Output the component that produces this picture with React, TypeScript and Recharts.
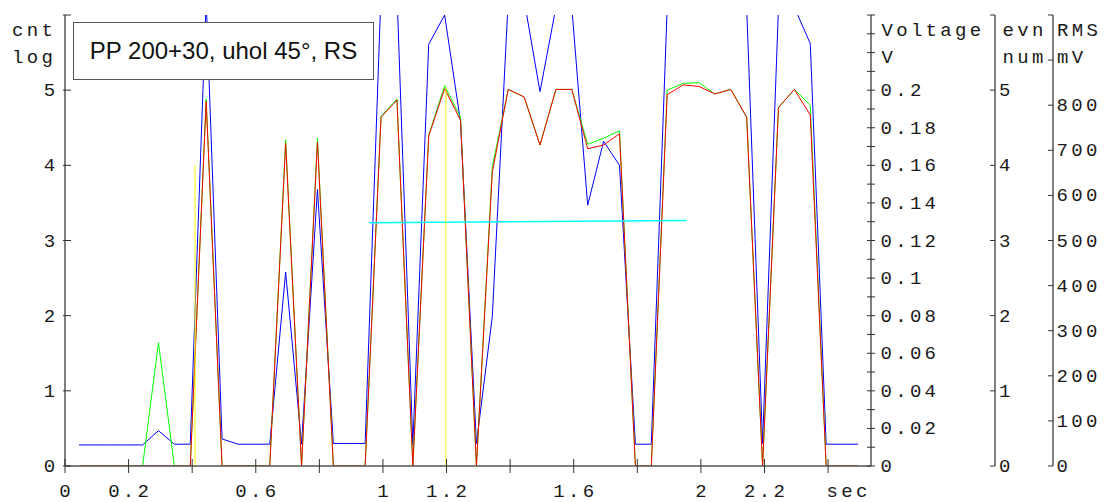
import { LineChart, Line, XAxis, YAxis, ReferenceLine } from 'recharts';

// sample times (sec)
const times = [
  0.044, 0.094, 0.144, 0.194, 0.244, 0.294, 0.344, 0.394, 0.444, 0.494,
  0.544, 0.594, 0.644, 0.694, 0.744, 0.794, 0.844, 0.894, 0.944, 0.994,
  1.044, 1.094, 1.144, 1.194, 1.244, 1.294, 1.344, 1.394, 1.444, 1.494,
  1.544, 1.594, 1.644, 1.694, 1.744, 1.794, 1.844, 1.894, 1.944, 1.994,
  2.044, 2.094, 2.144, 2.194, 2.244, 2.294, 2.344, 2.394, 2.444, 2.494,
];

// cnt log values
const blueCnt = [
  0.28, 0.28, 0.28, 0.28, 0.28, 0.47, 0.29, 0.29, 6.2, 0.36,
  0.29, 0.29, 0.29, 2.58, 0.29, 3.68, 0.3, 0.3, 0.3, 6.3,
  6.3, 0.28, 5.61, 6.0, 4.58, 0.3, 1.99, 6.2, 6.2, 4.98,
  6.1, 6.1, 3.47, 4.32, 4.0, 0.29, 0.29, 6.1, 6.3, 6.3,
  6.3, 6.3, 6.1, 0.3, 6.1, 6.1, 5.62, 0.29, 0.29, 0.29,
];
const greenCnt = [
  0, 0, 0, 0, 0, 1.64, 0, 0, 4.88, 0,
  0, 0, 0, 4.34, 0, 4.36, 0, 0, 0, 4.65,
  4.88, 0, 4.4, 5.06, 4.64, 0, 3.98, 5.01, 4.91, 4.27,
  5.01, 5.01, 4.28, 4.36, 4.46, 0, 0, 5.0, 5.09, 5.1,
  4.95, 5.01, 4.64, 0, 4.77, 5.01, 4.8, 0, 0, 0,
];
const redCnt = [
  0, 0, 0, 0, 0, 0, 0, 0, 4.85, 0,
  0, 0, 0, 4.29, 0, 4.31, 0, 0, 0, 4.64,
  4.87, 0, 4.39, 5.02, 4.6, 0, 3.91, 5.01, 4.91, 4.27,
  5.01, 5.01, 4.22, 4.27, 4.42, 0, 0, 4.94, 5.07, 5.05,
  4.95, 5.01, 4.64, 0, 4.77, 5.01, 4.67, 0, 0, 0,
];

// cyan level line
const cyanTimes = [0.957, 1.955];
const cyanLevels = [3.235, 3.267];

// yellow markers
const markerTimes = [0.409, 1.198];
const markerHeights = [4.0, 5.04];

// axes
const xTicks = [0, 0.2, 0.4, 0.6, 0.8, 1, 1.2, 1.4, 1.6, 1.8, 2, 2.2, 2.4];
const xTickLabels = ['0', '0.2', '', '0.6', '', '1', '1.2', '', '1.6', '', '2', '2.2', ''];
const cntTicks = [0, 1, 2, 3, 4, 5, 6];
const voltTicks = [
  0, 0.01, 0.02, 0.03, 0.04, 0.05, 0.06, 0.07, 0.08, 0.09, 0.1, 0.11, 0.12,
  0.13, 0.14, 0.15, 0.16, 0.17, 0.18, 0.19, 0.2, 0.21, 0.22, 0.23, 0.24,
];
const voltTickLabels = [
  '0', '', '0.02', '', '0.04', '', '0.06', '', '0.08', '', '0.1', '', '0.12',
  '', '0.14', '', '0.16', '', '0.18', '', '0.2', '', '', '', '',
];
const evnTicks = [0, 1, 2, 3, 4, 5, 6];
const rmsTicks = [0, 100, 200, 300, 400, 500, 600, 700, 800, 900, 1000];

const W = 1101;
const H = 494;
const MONO = '"Liberation Mono", "Courier New", monospace';
const TICK = '#333';
const AXIS = '#555';
const mono = { fontFamily: MONO, fontSize: 19, letterSpacing: 3.3, fill: '#1a1a1a' };

const findIdx = (arr: number[], v: number) => arr.findIndex((a) => Math.abs(a - v) < 1e-9);

const XTick = ({ x, y, payload }: any) => {
  const i = findIdx(xTicks, payload.value);
  return (
    <g>
      <line x1={x} x2={x} y1={y - 7} y2={y + 7} stroke={TICK} />
      <text x={x + 1.6} y={y + 31} textAnchor="middle" {...mono}>{xTickLabels[i] || ''}</text>
    </g>
  );
};

const CntTick = ({ x, y, payload }: any) => (
  <g>
    <line x1={x - 2} x2={x + 6} y1={y} y2={y} stroke={TICK} />
    {payload.value <= 5 && (
      <text x={x - 6.5} y={y + 6} textAnchor="end" {...mono}>{payload.value}</text>
    )}
  </g>
);

const VoltTick = ({ x, y, payload }: any) => {
  const i = findIdx(voltTicks, payload.value);
  return (
    <g>
      <line x1={x - 4} x2={x + 4} y1={y} y2={y} stroke={TICK} />
      <text x={x + 9.5} y={y + 6} {...mono}>{voltTickLabels[i] || ''}</text>
    </g>
  );
};

const EvnTick = ({ x, y, payload }: any) => (
  <g>
    <line x1={x - 5} x2={x} y1={y} y2={y} stroke={TICK} />
    {payload.value <= 5 && <text x={x + 4} y={y + 6} {...mono}>{payload.value}</text>}
  </g>
);

const RmsTick = ({ x, y, payload }: any) => (
  <g>
    <line x1={x - 5} x2={x} y1={y} y2={y} stroke={TICK} />
    {payload.value <= 800 && <text x={x + 3.5} y={y + 6} {...mono}>{payload.value}</text>}
  </g>
);

export default function App() {
  const data = times.map((t, i) => ({ t, blue: blueCnt[i], green: greenCnt[i], red: redCnt[i] }));
  const cyanData = cyanTimes.map((t, i) => ({ t, cyan: cyanLevels[i] }));

  return (
    <div style={{ position: 'relative', width: W, height: H }}>
      <LineChart width={W} height={H} data={data} margin={{ top: 7, right: 0, bottom: 0, left: 0 }}>
        <XAxis
          dataKey="t"
          type="number"
          domain={[0, 2.535]}
          ticks={xTicks}
          interval={0}
          height={36}
          tickSize={0}
          tickMargin={0}
          tickLine={false}
          tick={XTick}
          axisLine={{ stroke: AXIS, strokeWidth: 1.5 }}
        />
        <YAxis
          yAxisId="cnt"
          domain={[0, 6]}
          ticks={cntTicks}
          interval={0}
          width={57}
          allowDataOverflow
          tickSize={0}
          tickMargin={0}
          tickLine={false}
          tick={CntTick}
          axisLine={{ stroke: AXIS, strokeWidth: 1.5 }}
        />
        {/* right axes: ids sorted so they stack volt, evn, rms from the plot outwards */}
        <YAxis
          yAxisId="r1volt"
          orientation="right"
          domain={[0, 0.24]}
          ticks={voltTicks}
          interval={0}
          width={124}
          allowDataOverflow
          tickSize={0}
          tickMargin={0}
          tickLine={false}
          tick={VoltTick}
          axisLine={{ stroke: AXIS, strokeWidth: 1.5 }}
        />
        <YAxis
          yAxisId="r2evn"
          orientation="right"
          domain={[0, 6]}
          ticks={evnTicks}
          interval={0}
          width={58}
          allowDataOverflow
          tickSize={0}
          tickMargin={0}
          tickLine={false}
          tick={EvnTick}
          axisLine={{ stroke: AXIS, strokeWidth: 1.5 }}
        />
        <YAxis
          yAxisId="r3rms"
          orientation="right"
          domain={[0, 1000]}
          ticks={rmsTicks}
          interval={0}
          width={56}
          allowDataOverflow
          tickSize={0}
          tickMargin={0}
          tickLine={false}
          tick={RmsTick}
          axisLine={{ stroke: AXIS, strokeWidth: 1.5 }}
        />
        <Line yAxisId="cnt" dataKey="blue" stroke="#0000ff" strokeWidth={1} dot={false} activeDot={false} isAnimationActive={false} />
        <Line yAxisId="cnt" dataKey="green" stroke="#00ff00" strokeWidth={1} dot={false} activeDot={false} isAnimationActive={false} />
        <Line yAxisId="cnt" dataKey="red" stroke="#ff0000" strokeWidth={1} dot={false} activeDot={false} isAnimationActive={false} />
        <Line yAxisId="cnt" data={cyanData} dataKey="cyan" stroke="#00ffff" strokeWidth={1.5} dot={false} activeDot={false} isAnimationActive={false} />
        {markerTimes.map((t, i) => (
          <ReferenceLine
            key={`m-${i}`}
            yAxisId="cnt"
            segment={[{ x: t, y: 0 }, { x: t, y: markerHeights[i] }]}
            stroke="#ffff00"
            strokeWidth={1}
          />
        ))}
      </LineChart>

      <svg width={W} height={H} style={{ position: 'absolute', left: 0, top: 0, pointerEvents: 'none' }}>
        <text x={4} y={27.5} {...mono}>cnt</text>
        <text x={4} y={54.5} {...mono}>log</text>
        <text x={873.5} y={27.5} {...mono}>Voltage</text>
        <text x={873.5} y={54.5} {...mono}>V</text>
        <text x={994.5} y={27.5} {...mono}>evn</text>
        <text x={994.5} y={54.5} {...mono}>num</text>
        <text x={1049} y={27.5} {...mono}>RMS</text>
        <text x={1049} y={54.5} {...mono}>mV</text>
        <text x={818.5} y={489} {...mono}>sec</text>
      </svg>

      <div
        style={{
          position: 'absolute',
          left: 65,
          top: 14,
          width: 301,
          height: 58,
          boxSizing: 'border-box',
          border: '1.5px solid #555',
          background: '#fff',
          display: 'flex',
          alignItems: 'center',
          justifyContent: 'center',
          fontFamily: '"Liberation Sans", Arial, sans-serif',
          fontSize: 24,
          color: '#111',
        }}
      >
        PP 200+30, uhol 45°, RS
      </div>
    </div>
  );
}
